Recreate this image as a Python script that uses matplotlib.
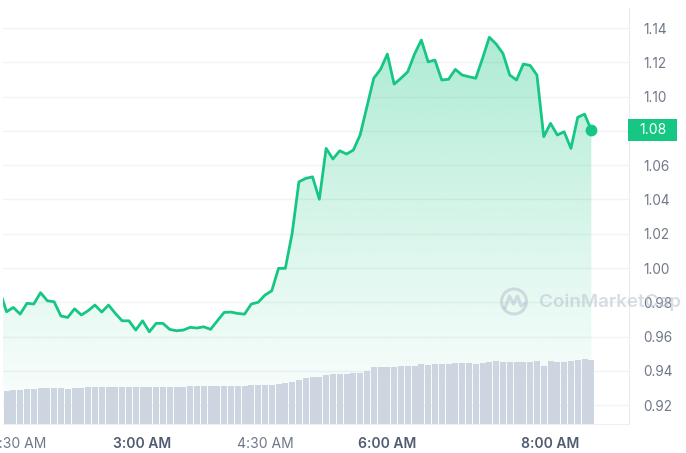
import numpy as np
import matplotlib
matplotlib.use("Agg")
import matplotlib.pyplot as plt
from matplotlib.patches import Circle, Rectangle
from matplotlib.colors import to_rgb

# ---------------- data ----------------
price_start_minute = 75          # minutes after midnight (1:15 AM)
volume_start_minute = 80         # 1:20 AM
step_minutes = 5

prices = [
    0.9867, 0.9745, 0.9770, 0.9731, 0.9794, 0.9790, 0.9856, 0.9809, 0.9803, 0.9720,
    0.9712, 0.9762, 0.9726, 0.9751, 0.9784, 0.9743, 0.9784, 0.9735, 0.9692, 0.9692,
    0.9638, 0.9692, 0.9628, 0.9677, 0.9677, 0.9642, 0.9634, 0.9638, 0.9654, 0.9650,
    0.9657, 0.9642, 0.9692, 0.9741, 0.9743, 0.9735, 0.9731, 0.9790, 0.9800, 0.9842,
    0.9867, 0.9998, 0.9998, 1.0202, 1.0503, 1.0523, 1.0532, 1.0401, 1.0698, 1.0636,
    1.0684, 1.0665, 1.0688, 1.0776, 1.0941, 1.1107, 1.1159, 1.1248, 1.1073, 1.1107,
    1.1145, 1.1248, 1.1330, 1.1203, 1.1213, 1.1097, 1.1101, 1.1159, 1.1126, 1.1116,
    1.1107, 1.1223, 1.1346, 1.1307, 1.1252, 1.1126, 1.1097, 1.1190, 1.1182, 1.1126,
    1.0766, 1.0844, 1.0776, 1.0795, 1.0698, 1.0879, 1.0898, 1.0805,
]

volumes = [
    33.0, 33.7, 33.7, 34.7, 34.7, 35.7, 35.7, 35.7, 35.7, 34.7,
    36.3, 36.3, 37.0, 37.0, 37.0, 37.0, 37.0, 37.0, 37.0, 37.0,
    37.0, 37.0, 37.0, 37.0, 37.0, 37.0, 37.0, 38.0, 38.0, 38.0,
    38.0, 38.0, 38.0, 38.0, 38.0, 38.0, 39.0, 39.0, 39.0, 39.0,
    40.3, 41.3, 42.3, 44.0, 45.7, 46.7, 46.7, 49.0, 50.0, 50.0,
    50.0, 50.7, 51.3, 53.0, 56.7, 56.7, 56.7, 56.7, 58.0, 58.0,
    58.0, 60.0, 59.0, 60.0, 60.0, 60.5, 60.7, 60.7, 60.7, 59.7,
    60.7, 61.7, 62.7, 61.7, 61.7, 61.7, 61.7, 61.7, 62.7, 58.0,
    63.0, 62.3, 62.3, 63.3, 64.0, 65.0, 64.0,
]

x_tick_minutes = [90, 180, 270, 360, 480]
x_tick_labels = ["1:30 AM", "3:00 AM", "4:30 AM", "6:00 AM", "8:00 AM"]
x_tick_bold = [False, True, False, True, True]
y_ticks = [0.92, 0.94, 0.96, 0.98, 1.00, 1.02, 1.04, 1.06, 1.08, 1.10, 1.12, 1.14]
current_price_label = "1.08"

# ---------------- style ----------------
GREEN = "#16c784"
BAR = "#cdd5e1"
GRID = "#f1f3f6"
TXT = "#6f7888"
TXT_BOLD = "#4f5b70"
FONT = "Inter"

price_t = price_start_minute + step_minutes * np.arange(len(prices))
vol_t = volume_start_minute + step_minutes * np.arange(len(volumes))
prices_arr = np.array(prices)

W, H = 686, 453
fig = plt.figure(figsize=(W / 100, H / 100), dpi=100)
fig.patch.set_facecolor("white")

ax_l, ax_r, ax_b, ax_t = 3, 629, 424, 8
ax = fig.add_axes([ax_l / W, 1 - ax_b / H, (ax_r - ax_l) / W, (ax_b - ax_t) / H])
ax2 = ax.twinx()

xmin, xmax = 77.4, 537.7
ymin, ymax = 0.9090, 1.1517

# grid
for yv in y_ticks:
    ax.axhline(yv, color=GRID, lw=1.0, zorder=0)

# gradient fill under line
poly = ax.fill_between(price_t, prices_arr, ymin, facecolor="none", edgecolor="none")
g = np.linspace(0, 1, 256)
alpha = 0.02 + 0.34 * g ** 1.2
rgb = to_rgb(GREEN)
grad = np.zeros((256, 1, 4))
grad[:, 0, 0], grad[:, 0, 1], grad[:, 0, 2] = rgb
grad[:, 0, 3] = alpha
im = ax.imshow(grad, extent=[xmin, xmax, ymin, 1.14], origin="lower",
               aspect="auto", zorder=1, interpolation="bilinear")
im.set_clip_path(poly.get_paths()[0], transform=ax.transData)

# line and end marker
ax.plot(price_t, prices_arr, color=GREEN, lw=2.0, zorder=5, solid_joinstyle="round")
ax.plot(price_t[-1], prices_arr[-1], "o", color=GREEN, ms=7.5, zorder=6)
ax.set_xlim(xmin, xmax)
ax.set_ylim(ymin, ymax)

# volume bars on twin axis
ax2.bar(vol_t, volumes, width=4.45, color=BAR, edgecolor="none", zorder=2)
ax2.set_ylim(0, ax_b - ax_t)
ax2.set_xlim(xmin, xmax)
ax2.set_yticks([])
for s in ax2.spines.values():
    s.set_visible(False)

# axes styling (after twinx, which resets tick side)
for s in ["top", "left"]:
    ax.spines[s].set_visible(False)
ax.spines["right"].set_color("#e9ecf0")
ax.spines["bottom"].set_color("#eef0f3")
ax.yaxis.tick_right()
ax.yaxis.set_label_position("right")
ax.set_yticks(y_ticks)
ax.set_yticklabels(["" if f"{v:.2f}" == current_price_label else f"{v:.2f}" for v in y_ticks])
ax.tick_params(axis="y", which="both", left=False, right=False, labelleft=False,
               labelright=True, length=0, pad=10, labelsize=9.8, labelcolor=TXT)
for lab in ax.get_yticklabels():
    lab.set_fontfamily(FONT)
ax.set_xticks(x_tick_minutes)
ax.set_xticklabels(x_tick_labels)
ax.tick_params(axis="x", length=0, pad=9, labelsize=10)
for lab, b in zip(ax.get_xticklabels(), x_tick_bold):
    lab.set_fontfamily(FONT)
    lab.set_fontweight("semibold" if b else "normal")
    lab.set_color(TXT_BOLD if b else TXT)

# current price badge
ov = fig.add_axes([0, 0, 1, 1], facecolor="none")
ov.set_xlim(0, W)
ov.set_ylim(H, 0)
ov.axis("off")
yc = H - ax.transData.transform((0, prices_arr[-1]))[1]
ov.add_patch(Rectangle((628, yc - 11), 49, 22, facecolor=GREEN, edgecolor="none"))
ov.text(652.5, yc, current_price_label, color="white", fontsize=10, family=FONT,
        ha="center", va="center")

# watermark
wm = "#b9c1cf"
wa = 0.55
ov.add_patch(Circle((514, 301.5), 12.5, fill=False, edgecolor=wm, lw=2.2, alpha=wa))
ov.plot([505, 509.5, 513.5, 517.5, 521, 525], [308, 296, 304, 296, 306, 303.5],
        color=wm, lw=2.2, alpha=wa, solid_joinstyle="round")
ov.text(539, 302, "CoinMarketCap", color=wm, alpha=wa, fontsize=13.5,
        family=FONT, fontweight="semibold", ha="left", va="center")

fig.savefig("out.png", dpi=100)
